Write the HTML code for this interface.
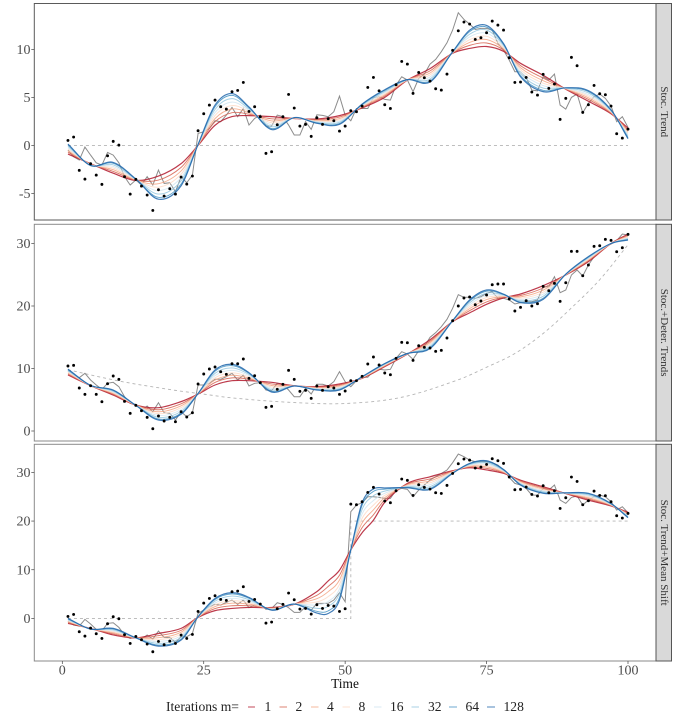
<!DOCTYPE html>
<html lang="en">
<head>
<meta charset="utf-8">
<title>Iterated smoothing of three trend series</title>
<style>
html,body{margin:0;padding:0;background:#fff;}
svg{display:block;font-family:"Liberation Serif",serif;}
</style>
</head>
<body>
<svg id="chart" xmlns="http://www.w3.org/2000/svg" width="675" height="720" viewBox="0 0 675 720">
  <text x="345" y="688" font-size="13.4" text-anchor="middle" fill="#111">Time</text>
  <g font-size="13.6" fill="#222">
    <text x="166" y="711">Iterations m=</text>
    <line x1="248" x2="255" y1="707" y2="707" stroke="#B2182B" stroke-opacity="0.6" stroke-width="1.3"/>
    <text x="264.5" y="711">1</text>
    <line x1="279.5" x2="287" y1="707" y2="707" stroke="#D6604D" stroke-opacity="0.6" stroke-width="1.3"/>
    <text x="295.5" y="711">2</text>
    <line x1="311" x2="318.5" y1="707" y2="707" stroke="#F4A582" stroke-opacity="0.6" stroke-width="1.3"/>
    <text x="327" y="711">4</text>
    <line x1="342.5" x2="350" y1="707" y2="707" stroke="#FDDBC7" stroke-opacity="0.6" stroke-width="1.3"/>
    <text x="358.5" y="711">8</text>
    <line x1="374" x2="381.5" y1="707" y2="707" stroke="#D1E5F0" stroke-opacity="0.6" stroke-width="1.3"/>
    <text x="390" y="711">16</text>
    <line x1="411.5" x2="419" y1="707" y2="707" stroke="#92C5DE" stroke-opacity="0.6" stroke-width="1.3"/>
    <text x="428" y="711">32</text>
    <line x1="449" x2="457" y1="707" y2="707" stroke="#4393C3" stroke-opacity="0.6" stroke-width="1.3"/>
    <text x="465.5" y="711">64</text>
    <line x1="487" x2="495" y1="707" y2="707" stroke="#2166AC" stroke-opacity="0.6" stroke-width="1.3"/>
    <text x="503.5" y="711">128</text>
  </g>
</svg>
<script>
// ---------- shared data ----------
const xTicks = [0, 25, 50, 75, 100];
const iterationCounts = [1, 2, 4, 8, 16, 32, 64, 128];
const seriesColors = ['#B2182B', '#D6604D', '#F4A582', '#FDDBC7', '#D1E5F0', '#92C5DE', '#4393C3', '#2166AC'];

// ---------- panel 1: Stoc. Trend ----------
const p1Ticks = [-5, 0, 5, 10];
const p1Obs = [0.52,0.87,-2.6,-3.51,-1.91,-3.09,-4.06,-1.08,0.42,0.03,-3.26,-5.07,-3.54,-4.24,-5.17,-6.77,-4.62,-5.28,-4.51,-5.07,-3.3,-4.03,-3.19,1.53,3.3,4.2,4.72,4.03,3.78,5.59,5.73,6.56,3.54,4.03,2.99,-0.83,-0.66,2.15,2.99,5.31,3.89,2.01,2.19,0.94,2.88,2.19,2.78,2.57,1.49,2.01,3.61,3.51,4.1,6.04,7.08,5.69,4.24,3.85,6.32,8.75,8.47,5.42,7.6,7.05,6.7,5.9,5.76,7.43,9.9,11.94,12.85,12.64,11.04,11.22,11.74,12.95,12.53,12.01,9.13,6.56,6.6,7.08,5.56,5.24,7.4,5.94,6.39,2.71,4.9,9.17,8.3,3.44,4.24,6.25,5.38,5.28,4.1,1.22,0.76,1.7];
const p1Latent = [-0.49,-1.18,-1.53,-0.17,-1.01,-1.81,-2.05,-0.73,-1.01,-1.81,-3.26,-4.13,-3.61,-4.13,-3.26,-4.13,-2.57,-3.96,-3.89,-4.83,-3.26,-3.89,-3.09,1.25,1.42,1.77,2.57,2.47,3.16,3.96,2.99,3.85,2.12,2.81,3.16,2.01,2.01,3.16,2.99,2.12,1.08,1.08,2.47,1.67,3.19,3.13,2.99,3.51,5.14,3.16,2.57,3.85,3.85,3.85,4.97,5.07,4.79,4.72,6.28,7.15,6.81,5.59,6.98,7.43,8.47,8.96,9.76,10.69,12.01,13.82,13.12,12.64,12.08,12.19,12.19,12.01,10.63,9.93,8.89,7.67,7.67,7.08,5.76,5.69,7.15,6.81,7.43,4.2,3.78,5.0,5.35,3.4,4.38,5.07,5.35,4.9,4.1,2.47,2.99,1.88];
const p1TrendTimes = [1, 100];
const p1TrendValues = [0, 0];
const p1Knots = [1,5,9,13,17,21,24,27,30,33,37,41,45,49,53,57,61,65,69,72,75,78,81,85,89,93,97,100];
const p1m1 = [-0.9,-1.9,-2.9,-3.65,-3.2,-1.9,0,2.1,3.0,3.1,3.0,2.8,2.75,3.1,3.9,5.0,6.8,8.0,9.6,10.1,10.3,9.8,8.55,7.3,5.85,4.6,3.3,1.8];
const p1m2 = [-0.72,-1.93,-2.71,-3.62,-3.61,-2.29,0.02,2.46,3.41,3.25,2.77,2.82,2.67,2.95,3.97,5.14,6.81,7.76,9.63,10.42,10.67,9.94,8.31,7.01,5.88,4.79,3.37,1.61];
const p1m4 = [-0.56,-1.97,-2.53,-3.6,-3.99,-2.66,0.03,2.79,3.79,3.4,2.55,2.83,2.6,2.8,4.03,5.26,6.82,7.54,9.65,10.73,11.03,10.06,8.09,6.74,5.9,4.96,3.43,1.44];
const p1m8 = [-0.4,-2.0,-2.36,-3.58,-4.35,-3.0,0.05,3.11,4.15,3.53,2.35,2.85,2.53,2.67,4.09,5.38,6.82,7.33,9.67,11.01,11.36,10.18,7.88,6.48,5.92,5.13,3.49,1.27];
const p1m16 = [-0.24,-2.03,-2.19,-3.56,-4.71,-3.35,0.06,3.42,4.51,3.67,2.15,2.86,2.47,2.53,4.15,5.5,6.83,7.12,9.69,11.3,11.69,10.3,7.67,6.23,5.94,5.29,3.55,1.11];
const p1m32 = [-0.09,-2.06,-2.02,-3.53,-5.07,-3.69,0.08,3.74,4.87,3.8,1.95,2.88,2.4,2.4,4.21,5.62,6.84,6.91,9.72,11.58,12.02,10.42,7.46,5.97,5.97,5.46,3.61,0.94];
const p1m64 = [0.06,-2.08,-1.86,-3.51,-5.41,-4.02,0.09,4.03,5.21,3.93,1.76,2.89,2.34,2.27,4.27,5.74,6.85,6.71,9.74,11.85,12.32,10.54,7.26,5.74,5.99,5.61,3.67,0.79];
const p1m128 = [0.14,-2.1,-1.77,-3.5,-5.6,-4.2,0.1,4.2,5.4,4.0,1.65,2.9,2.3,2.2,4.3,5.8,6.85,6.6,9.75,12.0,12.5,10.6,7.15,5.6,6.0,5.7,3.7,0.7];

// ---------- panel 2: Stoc.+Deter. Trends ----------
const p2Ticks = [0, 10, 20, 30];
const p2Obs = [10.4,10.51,6.88,5.87,7.25,5.87,4.69,7.57,8.8,8.27,4.75,2.83,4.11,3.25,2.19,0.37,2.4,1.6,2.19,1.49,3.09,2.24,2.93,7.52,9.12,9.92,10.24,9.49,9.07,10.77,10.77,11.52,8.43,8.85,7.73,3.79,3.95,6.67,7.47,9.71,8.27,6.35,6.51,5.23,7.2,6.51,7.09,6.88,5.87,6.4,8.05,8.05,8.75,10.72,11.84,10.56,9.28,9.01,11.63,14.19,14.13,11.31,13.65,13.39,13.28,12.75,12.91,14.88,17.65,20.0,21.28,21.44,20.21,20.8,21.76,23.41,23.52,23.52,21.12,19.2,19.79,20.85,20.0,20.37,23.15,22.45,23.63,20.75,23.73,28.75,28.75,24.85,26.56,29.55,29.65,30.67,30.51,28.69,29.33,31.47];
const p2Latent = [9.65,8.96,8.53,9.23,8.16,7.36,6.67,7.63,7.79,7.09,5.49,4.43,4.27,3.36,4.0,3.09,4.53,2.93,2.83,1.76,3.09,2.29,2.93,7.36,7.36,7.63,8.27,8.27,8.69,9.23,8.16,8.96,7.2,7.63,7.73,6.56,6.45,7.63,7.47,6.56,5.49,5.49,6.83,5.92,7.47,7.47,7.2,7.89,9.49,7.89,7.09,8.05,8.59,8.59,9.65,9.87,9.76,9.87,11.63,12.69,12.32,11.47,12.85,13.49,14.99,15.73,16.69,17.87,19.63,21.81,21.39,21.39,21.23,21.49,22.03,22.29,21.23,21.23,20.96,20.32,20.53,20.69,20.69,20.96,23.09,23.09,24.69,22.13,22.56,24.96,25.76,24.8,26.56,27.89,28.96,29.49,29.92,30.45,31.52,31.36];
const p2TrendTimes = [1,10,20,25,30,40,50,60,70,75,80,85,90,95,100];
const p2TrendValues = [9.8,8.0,6.5,5.9,5.3,4.6,4.4,5.4,8.2,10.2,12.4,15.6,19.7,24.2,29.8];
const p2Knots = [1,5,9,13,17,21,24,27,30,33,37,41,45,49,53,57,61,65,69,72,75,78,81,85,89,93,97,100];
const p2m1 = [8.96,7.25,5.75,4.15,3.73,4.7,5.9,7.36,8.05,8.05,7.79,7.25,7.1,7.52,8.43,10.3,12.3,14.6,17.5,18.9,20.27,21.3,21.92,23.25,24.96,27.1,30.0,31.5];
const p2m2 = [9.12,7.26,5.89,4.14,3.4,4.35,5.92,7.77,8.5,8.27,7.53,7.24,7.01,7.36,8.47,10.39,12.32,14.36,17.53,19.25,20.66,21.4,21.68,22.88,24.98,27.24,30.0,31.34];
const p2m4 = [9.27,7.27,6.01,4.13,3.08,4.03,5.93,8.15,8.91,8.47,7.28,7.23,6.92,7.2,8.52,10.47,12.33,14.14,17.55,19.58,21.03,21.5,21.46,22.53,25.01,27.36,30.0,31.19];
const p2m8 = [9.41,7.27,6.13,4.13,2.78,3.73,5.95,8.51,9.31,8.66,7.05,7.23,6.84,7.06,8.55,10.54,12.35,13.93,17.57,19.89,21.37,21.59,21.25,22.2,25.03,27.48,30.0,31.05];
const p2m16 = [9.55,7.28,6.25,4.12,2.49,3.42,5.96,8.87,9.7,8.86,6.81,7.22,6.76,6.92,8.59,10.62,12.36,13.72,17.59,20.2,21.71,21.68,21.04,21.88,25.05,27.6,30.0,30.91];
const p2m32 = [9.69,7.29,6.37,4.11,2.19,3.12,5.98,9.23,10.09,9.05,6.58,7.21,6.68,6.77,8.63,10.69,12.38,13.51,17.62,20.51,22.06,21.77,20.84,21.55,25.07,27.72,30.0,30.77];
const p2m64 = [9.82,7.3,6.49,4.1,1.92,2.83,5.99,9.57,10.46,9.23,6.36,7.2,6.6,6.64,8.67,10.76,12.39,13.31,17.64,20.8,22.38,21.85,20.64,21.24,25.09,27.84,30.0,30.64];
const p2m128 = [9.9,7.3,6.55,4.1,1.76,2.67,6.0,9.76,10.67,9.33,6.24,7.2,6.56,6.56,8.69,10.8,12.4,13.2,17.65,20.96,22.56,21.9,20.53,21.07,25.1,27.9,30.0,30.56];

// ---------- panel 3: Stoc. Trend+Mean Shift ----------
const p3Ticks = [0, 10, 20, 30];
const p3Obs = [0.41,0.82,-2.74,-3.63,-1.99,-3.15,-4.11,-1.1,0.34,-0.07,-3.36,-5.14,-3.7,-4.38,-5.27,-6.85,-4.73,-5.41,-4.66,-5.14,-3.42,-4.11,-3.29,1.44,3.15,4.11,4.66,3.9,3.7,5.48,5.62,6.51,3.49,3.9,2.95,-0.96,-0.75,1.99,2.88,5.21,3.84,1.92,2.05,0.89,2.81,2.05,2.67,2.53,1.44,1.99,23.49,23.36,23.97,25.89,26.92,25.55,24.11,23.77,26.23,28.63,28.36,25.27,27.47,26.92,26.58,25.82,25.68,27.33,29.79,31.78,32.74,32.53,30.89,31.1,31.64,32.81,32.4,31.85,29.04,26.44,26.51,26.99,25.48,25.14,27.26,25.82,26.23,22.6,24.79,29.04,28.15,23.36,24.18,26.16,25.27,25.21,23.97,21.1,20.62,21.58];
const p3Latent = [-0.55,-1.37,-1.58,-0.21,-1.16,-2.26,-2.53,-1.03,-0.89,-1.85,-3.42,-4.11,-3.77,-4.25,-3.42,-4.25,-2.6,-3.9,-3.9,-4.93,-3.77,-3.77,-3.08,1.03,1.71,2.4,2.88,2.74,3.29,3.77,2.88,3.77,2.19,2.74,2.95,1.85,2.05,3.22,2.88,2.19,1.23,1.23,2.4,1.71,3.08,3.08,3.08,3.77,5.27,3.42,21.92,23.29,23.77,25.0,25.0,24.86,24.66,24.66,26.37,26.71,26.51,25.0,26.37,27.4,28.42,29.11,29.79,30.48,31.99,33.77,33.22,32.53,32.19,32.19,32.19,31.99,31.51,30.48,28.97,27.74,27.4,26.71,25.34,25.34,26.71,26.37,27.4,24.32,23.63,24.86,25.14,23.29,24.32,25.0,25.34,25.0,23.97,22.26,22.95,21.71];
const p3TrendTimes = [1, 51, 51, 100];
const p3TrendValues = [0, 0, 20, 20];
const p3Knots = [1,5,9,13,17,21,24,27,30,33,37,41,45,47,49,51,53,55,57,61,65,69,72,75,78,81,85,89,93,97,100];
const p3m1 = [-1.03,-2.05,-3.4,-4,-3.1,-2.05,0.2,1.6,2.05,2.25,2.25,2.9,5.5,7.7,9.9,14.1,17.6,20.2,23.85,27.75,29.1,30.35,30.95,30.5,29.8,28.4,27.05,25.65,24.3,23.1,21.8];
const p3m2 = [-0.85,-2.08,-3.17,-4,-3.54,-2.46,0.23,2.03,2.6,2.6,2.16,2.91,4.75,6.56,8.86,14.1,18.65,21.29,24.35,27.6,28.66,30.26,31.1,30.82,29.94,28.23,26.82,25.68,24.54,23.19,21.61];
const p3m4 = [-0.69,-2.1,-2.95,-4,-3.96,-2.84,0.25,2.43,3.12,2.93,2.07,2.92,4.05,5.49,7.89,14.1,19.63,22.31,24.82,27.45,28.24,30.17,31.25,31.13,30.06,28.07,26.6,25.7,24.76,23.27,21.44];
const p3m8 = [-0.54,-2.12,-2.75,-4,-4.35,-3.2,0.27,2.8,3.61,3.23,1.99,2.92,3.39,4.48,6.97,14.1,20.55,23.27,25.27,27.32,27.85,30.09,31.38,31.41,30.18,27.92,26.4,25.72,24.97,23.34,21.27];
const p3m16 = [-0.38,-2.14,-2.55,-4,-4.74,-3.56,0.29,3.18,4.1,3.54,1.9,2.93,2.73,3.48,6.06,14.1,21.47,24.23,25.71,27.18,27.46,30.0,31.52,31.7,30.3,27.77,26.2,25.74,25.18,23.42,21.11];
const p3m32 = [-0.23,-2.17,-2.35,-4,-5.13,-3.92,0.32,3.55,4.59,3.85,1.82,2.94,2.07,2.47,5.14,14.1,22.4,25.19,26.15,27.05,27.07,29.92,31.65,31.98,30.42,27.62,26.0,25.77,25.39,23.49,20.94];
const p3m64 = [-0.08,-2.19,-2.16,-4,-5.49,-4.26,0.34,3.9,5.04,4.14,1.74,2.95,1.45,1.54,4.29,14.1,23.26,26.09,26.56,26.92,26.71,29.84,31.78,32.25,30.54,27.48,25.81,25.79,25.59,23.56,20.79];
const p3m128 = [0,-2.2,-2.05,-4,-5.7,-4.45,0.35,4.1,5.3,4.3,1.7,2.95,1.1,1.0,3.8,14.1,23.75,26.6,26.8,26.85,26.5,29.8,31.85,32.4,30.6,27.4,25.7,25.8,25.7,23.6,20.7];

// ---------- layout ----------
const SVGNS = 'http://www.w3.org/2000/svg';
const svg = document.getElementById('chart');
const panelLeft = 34.3, panelRight = 656, stripRight = 671.5;
function xScale(t) { return 62.3 + 5.657 * t; }
function make(tag, attrs, parent, text) {
  const el = document.createElementNS(SVGNS, tag);
  for (const k in attrs) el.setAttribute(k, attrs[k]);
  if (text !== undefined) el.textContent = text;
  parent.appendChild(el);
  return el;
}
function linePath(times, values, y) {
  return times.map((t, i) => (i ? 'L' : 'M') + xScale(t).toFixed(2) + ' ' + y(values[i]).toFixed(2)).join('');
}
function splinePath(times, values, y) {
  const n = times.length;
  const slope = i => {
    const a = Math.max(0, i - 1), b = Math.min(n - 1, i + 1);
    return (values[b] - values[a]) / (times[b] - times[a]);
  };
  let d = 'M' + xScale(times[0]).toFixed(2) + ' ' + y(values[0]).toFixed(2);
  for (let i = 0; i < n - 1; i++) {
    const dt = times[i + 1] - times[i];
    const c1t = times[i] + dt / 3, c2t = times[i + 1] - dt / 3;
    const c1v = values[i] + slope(i) * dt / 3, c2v = values[i + 1] - slope(i + 1) * dt / 3;
    d += 'C' + xScale(c1t).toFixed(2) + ' ' + y(c1v).toFixed(2) + ' ' + xScale(c2t).toFixed(2) + ' ' + y(c2v).toFixed(2) + ' ' + xScale(times[i + 1]).toFixed(2) + ' ' + y(values[i + 1]).toFixed(2);
  }
  return d;
}

const panels = [
  { key: 'stoc-trend', title: 'Stoc. Trend', top: 3.5, bottom: 220, zero: 145.4, unit: 9.6, border: '#5a5a5a',
    ticks: p1Ticks, obs: p1Obs, latent: p1Latent, trendT: p1TrendTimes, trendV: p1TrendValues, curvedTrend: false,
    knots: p1Knots, series: [p1m1, p1m2, p1m4, p1m8, p1m16, p1m32, p1m64, p1m128] },
  { key: 'stoc-deter-trends', title: 'Stoc.+Deter. Trends', top: 224.3, bottom: 441, zero: 431, unit: 6.25, border: '#8a8a8a',
    ticks: p2Ticks, obs: p2Obs, latent: p2Latent, trendT: p2TrendTimes, trendV: p2TrendValues, curvedTrend: true,
    knots: p2Knots, series: [p2m1, p2m2, p2m4, p2m8, p2m16, p2m32, p2m64, p2m128] },
  { key: 'stoc-trend-mean-shift', title: 'Stoc. Trend+Mean Shift', top: 444.3, bottom: 661, zero: 618.4, unit: 4.867, border: '#8a8a8a',
    ticks: p3Ticks, obs: p3Obs, latent: p3Latent, trendT: p3TrendTimes, trendV: p3TrendValues, curvedTrend: false,
    knots: p3Knots, series: [p3m1, p3m2, p3m4, p3m8, p3m16, p3m32, p3m64, p3m128] }
];

panels.forEach(function (p) {
  const y = v => p.zero - p.unit * v;
  const g = make('g', {}, svg);
  
  

  const bg = make('rect', { x: panelLeft, y: p.top, width: panelRight - panelLeft, height: p.bottom - p.top, fill: '#fff', stroke: p.border, 'stroke-width': 1 }, g);
  
  

  const strip = make('rect', { x: panelRight, y: p.top, width: stripRight - panelRight, height: p.bottom - p.top, fill: '#d9d9d9', stroke: '#555', 'stroke-width': 1 }, g);
  
  

  const midY = (p.top + p.bottom) / 2;
  const label = make('text', { x: 663.8, y: midY, 'font-size': 11, fill: '#333', 'text-anchor': 'middle', 'dominant-baseline': 'central', transform: 'rotate(90 663.8 ' + midY + ')' }, g, p.title);
  
  

  p.ticks.forEach(function (tv) {
    const tick = make('line', { x1: panelLeft - 3, x2: panelLeft, y1: y(tv), y2: y(tv), stroke: '#444', 'stroke-width': 0.7 }, g);
    
    
    const tl = make('text', { x: panelLeft - 3.8, y: y(tv) + 4.6, 'font-size': 14, fill: '#4d4d4d', 'text-anchor': 'end' }, g, String(tv));
    
    
  });

  const trend = make('path', { d: p.curvedTrend ? splinePath(p.trendT, p.trendV, y) : linePath(p.trendT, p.trendV, y), fill: 'none', stroke: '#b5b5b5', 'stroke-width': 0.9, 'stroke-dasharray': '3 3' }, g);
  
  

  const times = p.latent.map((_, i) => i + 1);
  const latent = make('path', { d: linePath(times, p.latent, y), fill: 'none', stroke: '#8c8c8c', 'stroke-width': 1 }, g);
  
  

  p.series.forEach(function (vals, i) {
    const outer = i === 0 || i === 7;
    const curve = make('path', { d: splinePath(p.knots, vals, y), fill: 'none', stroke: seriesColors[i], 'stroke-opacity': 0.85, 'stroke-width': outer ? 1.2 : 0.95 }, g);
    
    
  });

  p.obs.forEach(function (v, i) {
    const dot = make('circle', { cx: xScale(i + 1), cy: y(v), r: 1.45, fill: '#000' }, g);
    
    
  });
});

xTicks.forEach(function (t) {
  const bottom = panels[2].bottom;
  const tick = make('line', { x1: xScale(t), x2: xScale(t), y1: bottom, y2: bottom + 3, stroke: '#444', 'stroke-width': 0.7 }, svg);
  
  
  const tl = make('text', { x: xScale(t), y: bottom + 13.3, 'font-size': 14, fill: '#4d4d4d', 'text-anchor': 'middle' }, svg, String(t));
  
  
});
</script>
</body>
</html>
